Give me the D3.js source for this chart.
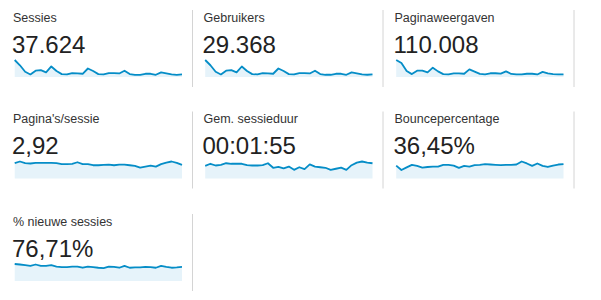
<!DOCTYPE html>
<html>
<head>
<meta charset="utf-8">
<script src="https://cdn.jsdelivr.net/npm/d3@7"></script>
<style>
  body { margin: 0; background: #fff; }
  text { font-family: "Liberation Sans", Arial, sans-serif; }
</style>
</head>
<body>
<div id="chart"></div>
<script>
// Metric names and totals
const labels = ['Sessies', 'Gebruikers', 'Paginaweergaven', "Pagina's/sessie", 'Gem. sessieduur', 'Bouncepercentage', '% nieuwe sessies']
const totals = ['37.624', '29.368', '110.008', '2,92', '00:01:55', '36,45%', '76,71%']

// Daily values (33 days)
const sessies = [4100, 2830, 1270, 615, 1520, 1640, 1110, 2540, 1435, 700, 615, 945, 860, 780, 2050, 1435, 700, 615, 945, 945, 860, 1520, 700, 535, 535, 780, 780, 535, 1110, 860, 615, 535, 615]
const gebruikers = [3200, 2210, 990, 480, 1185, 1280, 865, 1980, 1120, 545, 480, 735, 670, 610, 1600, 1120, 545, 480, 735, 735, 670, 1185, 545, 420, 420, 610, 610, 420, 865, 670, 480, 420, 480]
const paginaweergaven = [11880, 9740, 4160, 2020, 4400, 4510, 3210, 6530, 3920, 2020, 1900, 2490, 2490, 2260, 5350, 3800, 2140, 1900, 2610, 2610, 2380, 3920, 2140, 1780, 1780, 2260, 2260, 1780, 3560, 2490, 2020, 1780, 1900]
const paginasPerSessie = [3.11, 3.46, 3.11, 3.05, 3.19, 3.19, 3.19, 3.19, 3.11, 2.92, 2.92, 2.99, 3.31, 2.92, 2.92, 2.70, 2.70, 2.77, 2.84, 2.70, 2.84, 2.84, 2.70, 2.56, 2.21, 2.41, 2.63, 2.41, 2.92, 3.24, 3.46, 3.19, 2.77]
const sessieduur = [117, 136, 120, 126, 141, 136, 136, 136, 123, 120, 120, 123, 141, 99, 107, 93, 110, 80, 104, 86, 130, 110, 104, 99, 80, 90, 101, 80, 123, 147, 157, 147, 141]
const bounce = [36.5, 24, 31.5, 38.5, 35.5, 31, 32.5, 33.5, 33.5, 38.5, 38.5, 36.5, 30, 35.5, 33.5, 37.5, 38.5, 40.5, 39.5, 38.5, 37.5, 38.5, 38.5, 39.5, 48, 42.5, 35.5, 42.5, 35.5, 32.5, 36.5, 39.5, 40.5]
const nieuweSessies = [91, 88.3, 84.6, 81, 88.3, 81, 81, 84.6, 77.4, 74.6, 74.6, 77.4, 77.4, 71, 77.4, 74.6, 71, 69.2, 77.4, 75.5, 71, 81, 71, 72.8, 72.8, 75.5, 74.6, 71, 81, 75.5, 71, 72.8, 75.5]

const series = [sessies, gebruikers, paginaweergaven, paginasPerSessie, sessieduur, bounce, nieuweSessies]

const width = 601,
  height = 300
const colX = [0, 190.5, 381.5]
const rowY = [0, 101.5, 204]

let svg = d3.select('#chart')
  .append('svg')
  .attr('width', width)
  .attr('height', height)

labels.forEach((label, k) => {
  let x0 = colX[k % 3],
    y0 = rowY[Math.floor(k / 3)]
  let values = series[k]

  let g = svg.append('g').attr('transform', `translate(${x0},${y0})`)

  // divider on the right of each card
  g.append('line')
    .attr('x1', 192.5).attr('x2', 192.5)
    .attr('y1', 10).attr('y2', 87)
    .attr('stroke', '#d4d4d4')
    .attr('stroke-width', 1)

  g.append('text')
    .attr('x', 13)
    .attr('y', 21.5)
    .attr('fill', '#333')
    .style('font-size', '12.5px')
    .text(label)

  g.append('text')
    .attr('x', 12)
    .attr('y', 52.5)
    .attr('fill', '#222')
    .style('font-size', '24px')
    .text(totals[k])

  let x = d3.scaleLinear()
    .domain([0, values.length - 1])
    .range([14.7, 182])
  let y = d3.scaleLinear()
    .domain([0, d3.max(values)])
    .range([77, 60])

  let area = d3.area()
    .x((d, i) => x(i))
    .y0(77)
    .y1(d => y(d))
  let line = d3.line()
    .x((d, i) => x(i))
    .y(d => y(d))

  g.append('path')
    .datum(values)
    .attr('d', area)
    .attr('fill', '#e6f3fa')

  g.append('path')
    .datum(values)
    .attr('d', line)
    .attr('fill', 'none')
    .attr('stroke', '#058dc7')
    .attr('stroke-width', 1.8)
    .attr('stroke-linejoin', 'round')
})
</script>
</body>
</html>
